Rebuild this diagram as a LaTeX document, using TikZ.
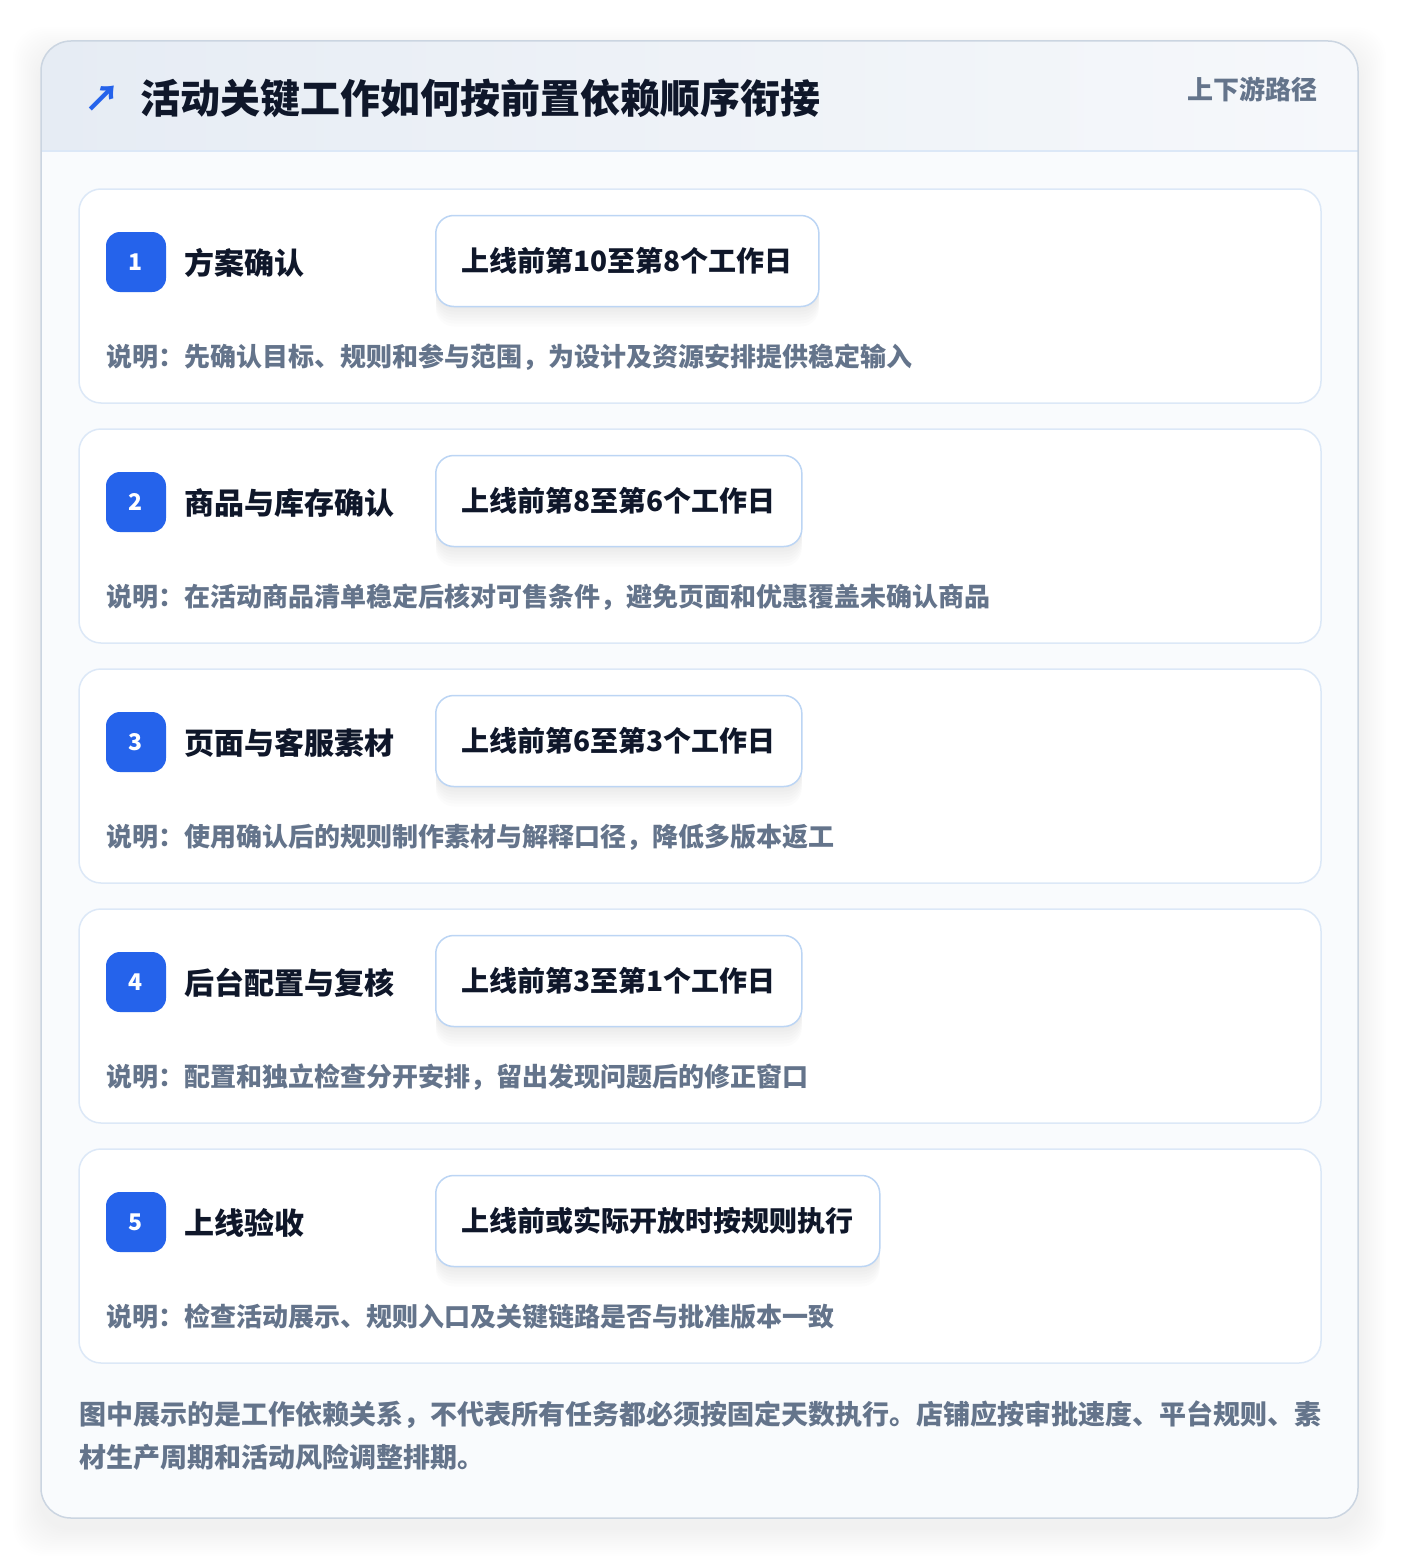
\documentclass[tikz,border=0pt]{standalone}
\usepackage{fontspec}
\setmainfont{Noto Sans CJK SC}

\definecolor{inkdark}{HTML}{0F172A}
\definecolor{inkgrey}{HTML}{64748B}
\definecolor{brandblue}{HTML}{2563EB}
\definecolor{cardline}{HTML}{DCE8F7}
\definecolor{frameline}{HTML}{CBD5E1}
\definecolor{dateline}{HTML}{BCD5F4}
\definecolor{headleft}{HTML}{E6ECF4}
\definecolor{headright}{HTML}{F6F8FB}
\definecolor{panelbg}{HTML}{F9FBFD}

\begin{document}
\begin{tikzpicture}[x=1pt,y=-1pt,
    card/.style={draw=cardline,line width=1.5pt,fill=white,rounded corners=22pt,
                 minimum width=1242pt,minimum height=214pt,inner sep=0pt},
    badge/.style={fill=brandblue,rounded corners=14pt,minimum size=60pt,inner sep=0pt,
                  text=white,font=\bfseries\fontsize{23}{26}\selectfont},
    stepname/.style={anchor=west,inner sep=0pt,text=inkdark,font=\bfseries\fontsize{30}{36}\selectfont},
    softdrop/.style={preaction={fill=black,fill opacity=0.012,transform canvas={yshift=-#1}}},
    datebox/.style={anchor=west,draw=dateline,line width=1.5pt,fill=white,rounded corners=18pt,
                    minimum height=91pt,inner xsep=26pt,text=inkdark,
                    font=\bfseries\fontsize{28}{34}\selectfont,
                    softdrop=20pt,softdrop=17pt,softdrop=14pt,softdrop=11pt,softdrop=8pt,softdrop=5pt,softdrop=2pt},
    note/.style={anchor=west,inner sep=0pt,text=inkgrey,font=\bfseries\fontsize{26}{32}\selectfont}]
  \useasboundingbox (0,0) rectangle (1400,1560);
  \fill[white] (0,0) rectangle (1400,1560);

  % outer frame with a soft shadow, and the header band
  \foreach \g in {2,4,...,28}
    \fill[black,fill opacity=0.005,rounded corners=30pt] (41-\g,41-\g+14) rectangle (1358+\g,1518+\g+10);
  \fill[panelbg,rounded corners=30pt] (41,41) rectangle (1358,1518);
  \begin{scope}
    \clip[rounded corners=30pt] (41,41) rectangle (1358,1518);
    \shade[left color=headleft,right color=headright] (41,41) rectangle (1358,151);
  \end{scope}
  \draw[cardline,line width=1.5pt] (41,151) -- (1358,151);
  \draw[frameline,line width=1.5pt,rounded corners=30pt] (41,41) rectangle (1358,1518);

  \node[text=brandblue,font=\bfseries\fontsize{36}{40}\selectfont,inner sep=0pt] (icon) at (102,99) {↗};
  \node[anchor=west,inner sep=0pt,text=inkdark,font=\bfseries\fontsize{40}{48}\selectfont]
        (title) at (140,98) {活动关键工作如何按前置依赖顺序衔接};
  \node[anchor=east,inner sep=0pt,text=inkgrey,font=\bfseries\fontsize{26}{30}\selectfont]
        (route) at (1318,89) {上下游路径};

  % step 1
  \node[card]     (card1)  at (700,296) {};
  \node[badge]    (badge1) at (136,262) {1};
  \node[stepname] (step1)  at (184,263) {方案确认};
  \node[datebox]  (date1)  at (435,261) {上线前第10至第8个工作日};
  \node[note]     (note1)  at (106,357) {说明：先确认目标、规则和参与范围，为设计及资源安排提供稳定输入};

  % step 2
  \node[card]     (card2)  at (700,536) {};
  \node[badge]    (badge2) at (136,502) {2};
  \node[stepname] (step2)  at (184,503) {商品与库存确认};
  \node[datebox]  (date2)  at (435,501) {上线前第8至第6个工作日};
  \node[note]     (note2)  at (106,597) {说明：在活动商品清单稳定后核对可售条件，避免页面和优惠覆盖未确认商品};

  % step 3
  \node[card]     (card3)  at (700,776) {};
  \node[badge]    (badge3) at (136,742) {3};
  \node[stepname] (step3)  at (184,743) {页面与客服素材};
  \node[datebox]  (date3)  at (435,741) {上线前第6至第3个工作日};
  \node[note]     (note3)  at (106,837) {说明：使用确认后的规则制作素材与解释口径，降低多版本返工};

  % step 4
  \node[card]     (card4)  at (700,1016) {};
  \node[badge]    (badge4) at (136,982) {4};
  \node[stepname] (step4)  at (184,983) {后台配置与复核};
  \node[datebox]  (date4)  at (435,981) {上线前第3至第1个工作日};
  \node[note]     (note4)  at (106,1077) {说明：配置和独立检查分开安排，留出发现问题后的修正窗口};

  % step 5
  \node[card]     (card5)  at (700,1256) {};
  \node[badge]    (badge5) at (136,1222) {5};
  \node[stepname] (step5)  at (184,1223) {上线验收};
  \node[datebox]  (date5)  at (435,1221) {上线前或实际开放时按规则执行};
  \node[note]     (note5)  at (106,1317) {说明：检查活动展示、规则入口及关键链路是否与批准版本一致};

  % footnote
  \node[note,font=\bfseries\fontsize{27}{32}\selectfont] (foot1) at (79,1415)
        {图中展示的是工作依赖关系，不代表所有任务都必须按固定天数执行。店铺应按审批速度、平台规则、素};
  \node[note,font=\bfseries\fontsize{27}{32}\selectfont] (foot2) at (79,1457)
        {材生产周期和活动风险调整排期。};
\end{tikzpicture}
\end{document}
